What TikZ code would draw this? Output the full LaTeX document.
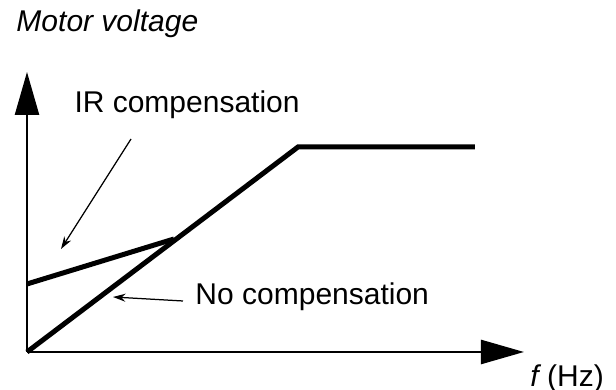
\documentclass[tikz,border=0pt]{standalone}
\usepackage{fontspec}
\setmainfont{Liberation Sans}
\usetikzlibrary{arrows.meta}
\definecolor{AxisBlack}{HTML}{000000}

\tikzset{
    axisline/.style={AxisBlack, line width=1pt, -{Triangle[length=17.2pt,width=9.6pt]}},
    curveline/.style={AxisBlack, line width=2pt, line join=miter},
    pointer/.style={AxisBlack, line width=0.5pt, -{Stealth[length=5pt,width=3.2pt]}},
    label/.style={inner sep=0pt, font=\fontsize{12}{14}\selectfont}
}

\begin{document}
\begin{tikzpicture}[x=0.4pt, y=-0.4pt]
        \useasboundingbox (0,0) rectangle (616,390);
        % axes
        \coordinate (origin) at (27,352);
        \coordinate (ytip) at (27,72);
        \coordinate (xtip) at (524,352);
        \draw[axisline] (origin) -- (ytip);
        \draw[axisline] (origin) -- (xtip);

        % voltage curves
        \coordinate (knee) at (298,147);
        \coordinate (flatend) at (475,147);
        \coordinate (irstart) at (27,284);
        \coordinate (irmeet) at (174,239);
        \draw[curveline] (origin) -- (knee) -- (flatend);
        \draw[curveline] (irstart) -- (irmeet);

        % labels
        \node[label, anchor=base west] (vlabel) at (16,32) {\itshape Motor voltage};
        \node[label, anchor=base west] (irlabel) at (74,113) {IR compensation};
        \node[label, anchor=base west] (nolabel) at (195,305) {No compensation};
        \node[label, anchor=base west] (flabel) at (530,387) {\itshape f\upshape\ (Hz)};

        \coordinate (irfrom) at (131,139);
        \coordinate (irto) at (61,249);
        \coordinate (nofrom) at (183,301);
        \coordinate (noto) at (113,297);
        \draw[pointer] (irfrom) -- (irto);
        \draw[pointer] (nofrom) -- (noto);
\end{tikzpicture}
\end{document}
